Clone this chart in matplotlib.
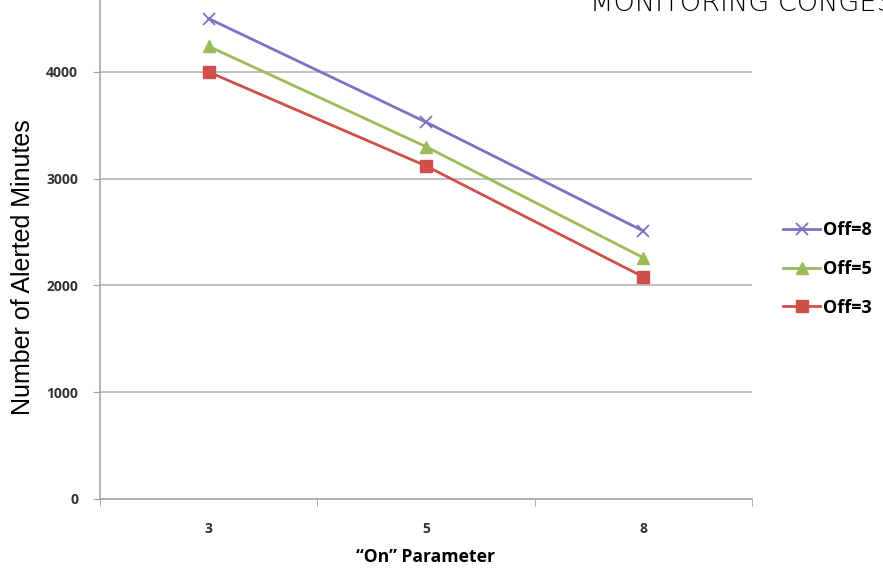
import matplotlib
matplotlib.use("Agg")
import matplotlib.pyplot as plt
from matplotlib.ticker import FixedLocator

categories = ["3", "5", "8"]
series_names = ["Off=8", "Off=5", "Off=3"]
off8 = [4500, 3530, 2510]
off5 = [4240, 3300, 2260]
off3 = [4000, 3120, 2080]
yticks = [0, 1000, 2000, 3000, 4000]

W, H = 883, 570
fig = plt.figure(figsize=(W / 100, H / 100), dpi=100)
fig.patch.set_facecolor("white")

ax = fig.add_axes([100 / W, (H - 499) / H, 652 / W, 499 / H])
x = list(range(len(categories)))

styles = [
    dict(color="#7b72c2", marker="x", markersize=9, markeredgewidth=1.3),
    dict(color="#9bbb59", marker="^", markersize=8),
    dict(color="#cf4f4b", marker="s", markersize=8),
]
for name, vals, st in zip(series_names, [off8, off5, off3], styles):
    ax.plot(x, vals, lw=2.0, label=name, clip_on=False, zorder=3, **st)

ax.set_xlim(-0.5, 2.5)
ax.set_ylim(0, 4674)
ax.set_yticks(yticks)
ax.set_yticklabels([str(v) for v in yticks])
ax.set_xticks(x)
ax.set_xticklabels(categories)
ax.xaxis.set_minor_locator(FixedLocator([-0.5, 0.5, 1.5, 2.5]))
ax.tick_params(axis="x", which="major", length=0, pad=16.5)
ax.tick_params(axis="x", which="minor", length=5, direction="out", color="#a0a0a0")
ax.tick_params(axis="y", length=5, direction="out", color="#a0a0a0", pad=10.8)
for lab in ax.get_xticklabels() + ax.get_yticklabels():
    lab.set_fontsize(10)
    lab.set_fontweight("bold")
    lab.set_color("#333333")
    lab.set_family("Open Sans")

ax.grid(axis="y", color="#b5b5b5", lw=1.2)
ax.set_axisbelow(True)
for s in ["top", "right"]:
    ax.spines[s].set_visible(False)
for s in ["left", "bottom"]:
    ax.spines[s].set_color("#a8a8a8")
    ax.spines[s].set_linewidth(1.2)

fig.text(23 / W, 1 - 267 / H, "Number of Alerted Minutes", rotation=90,
         ha="center", va="center", fontsize=18, family="Liberation Sans", color="black")
fig.text(426 / W, 1 - 557 / H, "\u201cOn\u201d Parameter", ha="center", va="center",
         fontsize=12.6, fontweight="bold", family="Open Sans", color="black")
fig.text(590 / W, 1 - 11 / H, "MONITORING CONGESTION", ha="left", va="baseline",
         fontsize=19.5, family="DejaVu Sans", fontweight="light", color="black")

leg = fig.legend(loc="center left", bbox_to_anchor=(783 / W, 1 - 269 / H), frameon=False,
                 borderpad=0, borderaxespad=0,
                 handlelength=2.05, handletextpad=0.15, labelspacing=1.15,
                 prop=dict(family="Open Sans", weight="bold", size=13))

fig.savefig("out.png", dpi=100, facecolor="white")
